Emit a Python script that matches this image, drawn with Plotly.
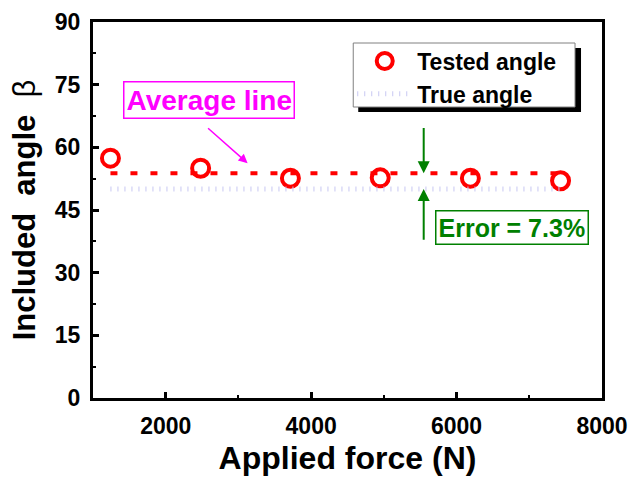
import plotly.graph_objects as go

force = [1240, 2480, 3715, 4950, 6190, 7430]
tested_angle = [57.4, 55.0, 52.6, 52.7, 52.6, 52.0]
average_angle = 53.8
true_angle = 50.0
x_ticks = [2000, 4000, 6000, 8000]
y_ticks = [0, 15, 30, 45, 60, 75, 90]

FONT = "Liberation Sans, Arial, sans-serif"
L, T, W, H = 92.5, 22, 509.5, 376


def px(x):
    return (x - L) / W


def py(y):
    return (T + H - y) / H


fig = go.Figure()

fig.add_trace(go.Scatter(
    x=force, y=tested_angle, mode="markers", name="Tested angle",
    marker=dict(symbol="circle-open", size=17, color="#ff0000",
                line=dict(width=4, color="#ff0000")),
))
fig.add_trace(go.Scatter(
    x=[force[0], force[-1]], y=[true_angle, true_angle], mode="lines",
    name="True angle",
    line=dict(color="#c8c8f2", width=5, dash="1px,6px"),
))
fig.add_trace(go.Scatter(
    x=[force[0], force[-1]], y=[average_angle, average_angle], mode="lines",
    name="Average line", showlegend=False,
    line=dict(color="#ff0000", width=4, dash="7px,13px"),
))

# legend shadow and box
fig.add_shape(type="rect", xref="paper", yref="paper",
              x0=px(358), x1=px(581), y0=py(112), y1=py(48),
              fillcolor="black", line=dict(width=0), layer="above")
fig.add_shape(type="rect", xref="paper", yref="paper",
              x0=px(353), x1=px(575), y0=py(107), y1=py(43),
              fillcolor="white", line=dict(width=1, color="#808080"), layer="above")

# Average line label + arrow
fig.add_annotation(x=2590, y=71.3, text="<b>Average line</b>", showarrow=False,
                   font=dict(family=FONT, size=28, color="#ff00ff"),
                   bordercolor="#ff00ff", borderwidth=1.5, borderpad=2,
                   bgcolor="white")
fig.add_annotation(x=3126, y=56.2, ax=2562, ay=64.9, xref="x", yref="y",
                   axref="x", ayref="y", text="", showarrow=True,
                   arrowhead=2, arrowsize=1.2, arrowwidth=1.5,
                   arrowcolor="#ff00ff")

# Error arrows + label
fig.add_annotation(x=5548, y=average_angle, ax=5548, ay=65.0, xref="x", yref="y",
                   axref="x", ayref="y", text="", showarrow=True,
                   arrowhead=2, arrowsize=1.2, arrowwidth=2, arrowcolor="#008000")
fig.add_annotation(x=5548, y=true_angle, ax=5548, ay=37.5, xref="x", yref="y",
                   axref="x", ayref="y", text="", showarrow=True,
                   arrowhead=2, arrowsize=1.2, arrowwidth=2, arrowcolor="#008000")
fig.add_annotation(x=6759, y=40.8, text="<b>Error = 7.3%</b>", showarrow=False,
                   font=dict(family=FONT, size=25, color="#008000"),
                   bordercolor="#008000", borderwidth=1.5, borderpad=2,
                   bgcolor="white")

axis_common = dict(
    showgrid=False, zeroline=False, showline=True, linewidth=3,
    linecolor="black", mirror=True, ticks="inside", ticklen=6,
    tickwidth=2.5, tickcolor="black",
    tickfont=dict(family=FONT, size=23, color="black", weight="bold"),
)

fig.update_xaxes(
    range=[1000, 8000], tickvals=x_ticks, ticklabelstandoff=5,
    minor=dict(ticks="inside", ticklen=3, tickwidth=2, tickcolor="black", dtick=1000, tick0=1000),
    title=dict(text="<b>Applied force (N)</b>", standoff=10,
               font=dict(family=FONT, size=32, color="black")),
    **axis_common,
)
fig.update_yaxes(
    range=[0, 90], tickvals=y_ticks, ticklabelstandoff=5,
    minor=dict(ticks="inside", ticklen=3, tickwidth=2, tickcolor="black", dtick=7.5, tick0=0),
    title=dict(text="<b>Included\u00a0\u00a0angle\u00a0\u00a0</b><span style='font-weight:normal'>β</span>",
               standoff=10, font=dict(family=FONT, size=31, color="black")),
    **axis_common,
)

fig.update_layout(
    width=631, height=483,
    margin=dict(l=L, r=631 - L - W, t=T, b=483 - T - H, autoexpand=False),
    plot_bgcolor="white", paper_bgcolor="white",
    legend=dict(x=px(352), y=py(39.5), xanchor="left", yanchor="top",
                bgcolor="rgba(0,0,0,0)", borderwidth=0,
                itemwidth=55,
                font=dict(family=FONT, size=23, color="black", weight="bold")),
    font=dict(family=FONT),
)

fig.write_html("out.html")
